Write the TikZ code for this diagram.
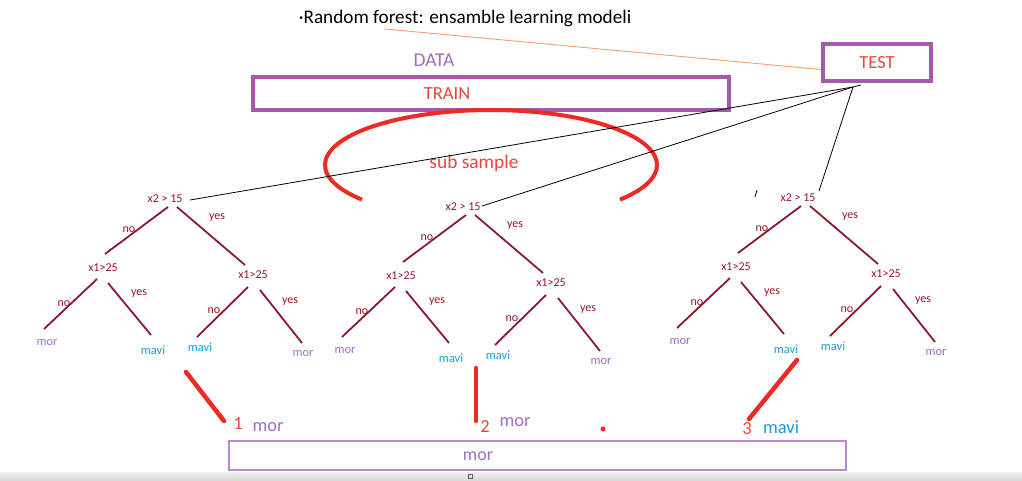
\documentclass[tikz,border=0pt]{standalone}
\usepackage{fontspec}
\setmainfont{Carlito}
\definecolor{boxpurple}{HTML}{A35AAB}
\definecolor{datapurple}{HTML}{A66BBE}
\definecolor{redtxt}{HTML}{E9473B}
\definecolor{redstroke}{HTML}{EE2A24}
\definecolor{maroon}{HTML}{8B1A2E}
\definecolor{leafpurple}{HTML}{A070C8}
\definecolor{leafblue}{HTML}{1C9CDC}
\definecolor{thinpurple}{HTML}{B98AC6}
\definecolor{orangeline}{HTML}{F2A070}
\tikzset{
  fs/.style={font=\fontsize{#1}{#1}\selectfont},
  tlab/.style={fs=12, text=maroon!85!red, inner sep=1pt},
  leafm/.style={fs=12.5, text=leafpurple, inner sep=1pt},
  leafb/.style={fs=12.5, text=leafblue, inner sep=1pt},
  tedge/.style={draw=maroon, line width=1.8pt},
  bigbox/.style={draw=boxpurple, line width=4pt, inner sep=0pt},
  redmark/.style={draw=redstroke, line width=4.5pt, line cap=round},
  ftree/.pic={
    \node[tlab] (-root) at (0,0) {x2 > 15};
    \node[tlab] (-l) at (-62,69) {x1>25};
    \node[tlab] (-r) at (88,76) {x1>25};
    \node[leafm] (-ll) at (-118,143) {mor};
    \node[leafb] (-lr) at (-12,151) {mavi};
    \node[leafb] (-rl) at (35,148) {mavi};
    \node[leafm] (-rr) at (138,154) {mor};
    \draw[tedge] ([shift={(3,8)}]-root.center) -- ([shift={(2,-14)}]-l.center);
    \draw[tedge] ([shift={(12,8)}]-root.center) -- ([shift={(-8,-10)}]-r.center);
    \draw[tedge] ([shift={(-6,11)}]-l.center) -- ([shift={(-3,-13)}]-ll.center);
    \draw[tedge] ([shift={(5,15)}]-l.center) -- ([shift={(-2,-15)}]-lr.center);
    \draw[tedge] ([shift={(-5,12)}]-r.center) -- ([shift={(-3,-10)}]-rl.center);
    \draw[tedge] ([shift={(7,15)}]-r.center) -- ([shift={(-1,-10)}]-rr.center);
    \node[tlab] (-n1) at (-36,31) {no};
    \node[tlab] (-y1) at (52,19) {yes};
    \node[tlab] (-n2) at (-101,105) {no};
    \node[tlab] (-y2) at (-26,95) {yes};
    \node[tlab] (-n3) at (49,112) {no};
    \node[tlab] (-y3) at (125,103) {yes};
  }
}
\begin{document}
\begin{tikzpicture}[x=1pt,y=-1pt]
\useasboundingbox (0,0) rectangle (1022,480);
\fill[white] (0,0) rectangle (1022,480);
% bottom status bar
\shade[top color=gray!12, bottom color=gray!30] (0,472) rectangle (1022,480);
\draw[gray!70!black, line width=0.8pt] (468,474) rectangle (472,478);

% title
\node[fs=19.2, text=black, inner sep=0pt] (title) at (465,18) {·Random forest: ensamble learning modeli};

% boxes
\node[fs=19.5, text=datapurple] (data) at (434,60) {DATA};
\node[bigbox, minimum width=476pt, minimum height=33pt] (train) at (491,93.5) {};
\node[fs=18.5, text=redtxt] (traintxt) at (447,94) {TRAIN};
\node[bigbox, minimum width=108pt, minimum height=37pt, fs=18.5, text=redtxt] (test) at (877,62.5) {TEST};

% orange line title -> test
\draw[orangeline, line width=0.9pt] ([shift={(-80,11)}]title.center) -- ([shift={(0,7)}]test.west);

% sub sample arc
\draw[redstroke, line width=4pt] (491,165) ++(141:166 and 55) arc[start angle=141, end angle=399, x radius=166, y radius=55];
\node[fs=19.4, text=redtxt] (sub) at (474,163) {sub sample};

% trees
\pic (t1) at (165,199) {ftree};
\pic (t2) at (463,207) {ftree};
\pic (t3) at (798,198) {ftree};

% lines to test
\coordinate (conv) at (853,87);
\draw[black, line width=0.8pt] ([shift={(25,1)}]t1-root.center) -- (conv);
\draw[black, line width=0.8pt] ([shift={(19,-1)}]t2-root.center) -- (conv);
\draw[black, line width=0.8pt] ([shift={(21,-7)}]t3-root.center) -- (conv);
\draw[black, line width=0.8pt] (conv) -- ++(8,-2);
\draw[black, line width=0.8pt] (757,190) -- (755,197);

% red votes
\coordinate (v1a) at (186,372); \coordinate (v1b) at (224,421);
\coordinate (v2a) at (476,368); \coordinate (v2b) at (476,421);
\coordinate (v3a) at (797,360); \coordinate (v3b) at (749,419);
\draw[redmark] (v1a) -- (v1b);
\draw[redmark] (v2a) -- (v2b);
\draw[redmark] (v3a) -- (v3b);
\node[fs=18.5, text=redtxt] (n1) at (238,424) {1};
\node[fs=18.5, text=leafpurple] (m1) at (268,427) {mor};
\node[fs=18.5, text=redtxt] (n2) at (485,426) {2};
\node[fs=18.5, text=leafpurple] (m2) at (515,422) {mor};
\fill[redstroke] (603,429) circle (2.5);
\node[fs=18.5, text=redtxt] (n3) at (747,429) {3};
\node[fs=18.5, text=leafblue] (m3) at (781,427) {mavi};

% result box
\node[draw=thinpurple, line width=1.2pt, minimum width=617pt, minimum height=29pt, inner sep=0pt] (res) at (537.5,455.5) {};
\node[fs=18, text=leafpurple] (restxt) at (478,456) {mor};
\end{tikzpicture}
\end{document}
